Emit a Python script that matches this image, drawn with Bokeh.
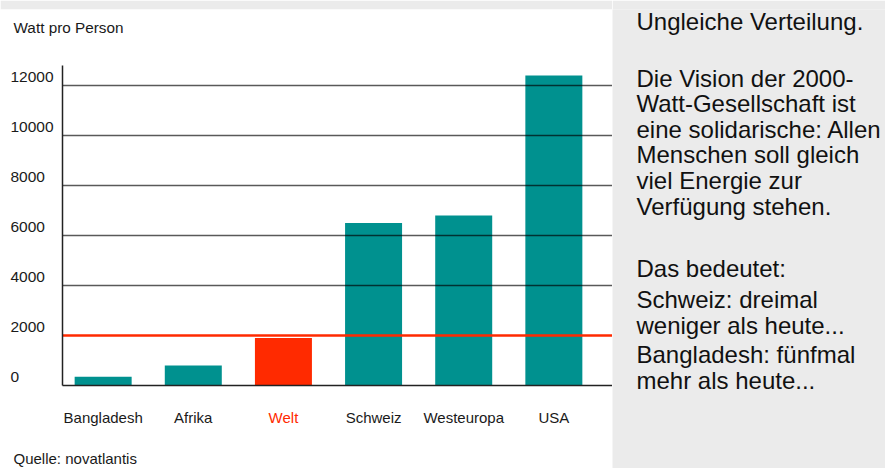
from bokeh.plotting import figure
from bokeh.models import LinearAxis, FixedTicker, Range1d
from bokeh.layouts import row
from bokeh.embed import file_html
from bokeh.resources import INLINE
from bokeh.core.properties import value

# ---------------- data ----------------
categories = ["Bangladesh", "Afrika", "Welt", "Schweiz", "Westeuropa", "USA"]
watts = [350, 800, 1900, 6500, 6800, 12400]
highlight = "Welt"
target_watt = 2000
y_ticks = [0, 2000, 4000, 6000, 8000, 10000, 12000]
y_tick_labels = ["0", "2000", "4000", "6000", "8000", "10000", "12000"]
grid_ticks = [4000, 6000, 8000, 10000, 12000]
title_text = "Watt pro Person"
source_text = "Quelle: novatlantis"
side_lines = [
    "Ungleiche Verteilung.",
    "Die Vision der 2000-",
    "Watt-Gesellschaft ist",
    "eine solidarische: Allen",
    "Menschen soll gleich",
    "viel Energie zur",
    "Verfügung stehen.",
    "Das bedeutet:",
    "Schweiz: dreimal",
    "weniger als heute...",
    "Bangladesh: fünfmal",
    "mehr als heute...",
]

# ---------------- layout / style ----------------
W1, W2, H = 612, 273, 468
TOP = 9                                 # grey strip above the white panel
GREY = "#ebebeb"
TEAL = "#00918f"
RED = "#ff2a00"
SANS = value("Liberation Sans")

bar0_px, bar_step_px = 102.65, 90.14    # pixel centre of first bar, step
zero_px = 385                           # pixel row of the zero line
units_per_px = 40.0


def xd(px):
    return (px - bar0_px) / bar_step_px


x_start, x_end = xd(0), xd(W1)
y_start = -(H - zero_px) * units_per_px
y_end = y_start + (H - TOP) * units_per_px


def yd(px_from_top):
    return y_end - (px_from_top - TOP) * units_per_px


axis_x = xd(62)
idx = list(range(len(categories)))
bar_colors = [RED if c == highlight else TEAL for c in categories]
label_colors = [RED if c == highlight else "#1a1a1a" for c in categories]

p = figure(width=W1, height=H, x_range=Range1d(x_start, x_end),
           y_range=Range1d(y_start, y_end), output_backend="svg",
           toolbar_location=None, x_axis_location=None, y_axis_location=None,
           min_border=0, min_border_top=TOP, outline_line_color=None,
           background_fill_color="white", border_fill_color=GREY)
p.grid.visible = False

p.vbar(x=idx, top=watts, bottom=0, width=57 / bar_step_px,
       fill_color=bar_colors, line_color=None)

p.segment(x0=axis_x, x1=x_end, y0=grid_ticks, y1=grid_ticks,
          line_color="black", line_alpha=0.65, line_width=1.6)
p.segment(x0=[axis_x], x1=[x_end], y0=[target_watt], y1=[target_watt],
          line_color=RED, line_width=2.6)

yax = LinearAxis(fixed_location=axis_x, bounds=(0, 12800),
                 ticker=FixedTicker(ticks=[]), axis_line_color="#222222",
                 axis_line_width=1.5, major_tick_line_color=None,
                 minor_tick_line_color=None)
p.add_layout(yax, "left")
xax = LinearAxis(fixed_location=0, bounds=(axis_x, x_end),
                 ticker=FixedTicker(ticks=[]), axis_line_color="#222222",
                 axis_line_width=1.5, major_tick_line_color=None,
                 minor_tick_line_color=None)
p.add_layout(xax, "below")

# tick labels sit a little above their grid lines
p.text(x=xd(10), y=y_ticks, text=y_tick_labels, text_font=SANS,
       text_font_size="15.5px", text_align="left", text_baseline="middle",
       y_offset=-9, text_color="#1a1a1a")

p.text(x=idx, y=0, text=categories, text_font=SANS, text_font_size="15px",
       text_align="center", text_baseline="middle", y_offset=31.5,
       text_color=label_colors)

p.text(x=[xd(13)], y=[yd(26.5)], text=[title_text], text_font=SANS,
       text_font_size="15.3px", text_align="left", text_baseline="middle",
       text_color="#1a1a1a")
p.text(x=[xd(13)], y=[yd(458)], text=[source_text], text_font=SANS,
       text_font_size="15px", text_align="left", text_baseline="middle",
       text_color="#1a1a1a")

# ---------------- right text panel ----------------
side_centres = [12, 70, 96, 122, 148, 174.5, 200.5, 264, 296, 322, 352, 378]

p2 = figure(width=W2, height=H, x_range=Range1d(0, W2), y_range=Range1d(H, 0),
            output_backend="svg", toolbar_location=None,
            x_axis_location=None, y_axis_location=None, min_border=0,
            outline_line_color=None, background_fill_color=GREY,
            border_fill_color=GREY)
p2.grid.visible = False
p2.text(x=24, y=side_centres, text=side_lines,
        text_font=SANS, text_font_size="24px", text_align="left",
        text_baseline="middle", text_color="#111111")

layout = row(p, p2)
open("out.html", "w").write(file_html(layout, INLINE))
